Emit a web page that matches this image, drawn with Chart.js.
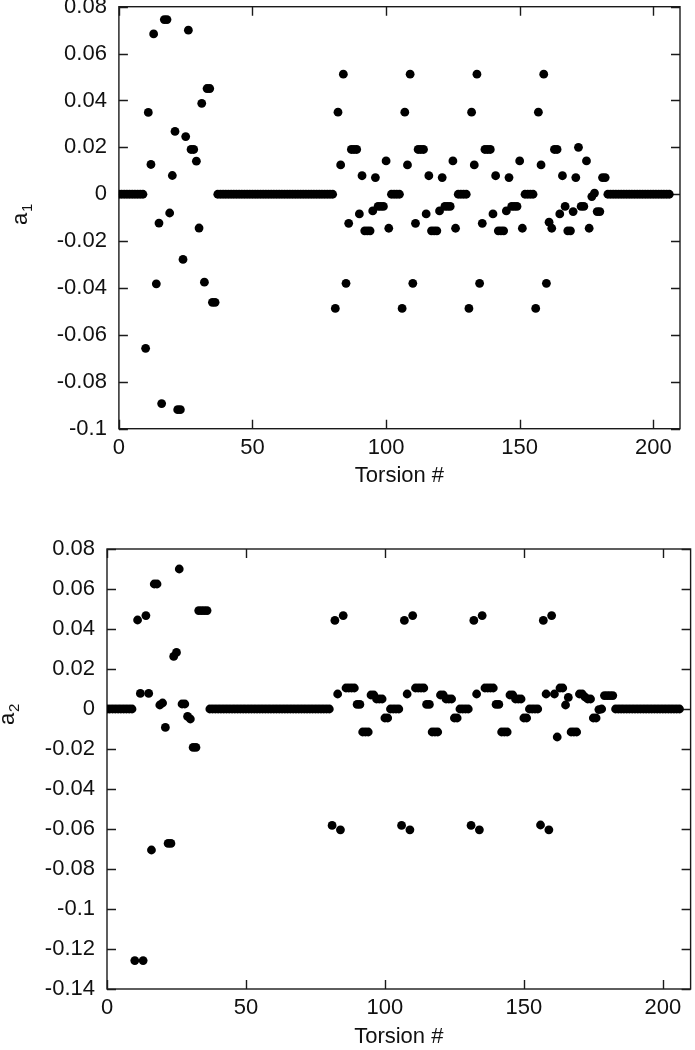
<!DOCTYPE html>
<html>
<head>
<meta charset="utf-8">
<script src="https://cdn.jsdelivr.net/npm/chart.js@4.4.1/dist/chart.umd.min.js"></script>
<style>
  body { margin: 0; background: #fff; }
  .wrap { position: absolute; left: 0; width: 695px; }
  #top-wrap { top: 0; height: 500px; }
  #bottom-wrap { top: 500px; height: 550px; }
</style>
</head>
<body>
<div class="wrap" id="top-wrap"><canvas id="a1-chart" width="695" height="500"></canvas></div>
<div class="wrap" id="bottom-wrap"><canvas id="a2-chart" width="695" height="550"></canvas></div>
<script>
// ==================================================================
//
// Data (index in array = torsion #)
//
// ==================================================================

const torsionTicks = [0, 50, 100, 150, 200];
const a1Ticks = [0.08, 0.06, 0.04, 0.02, 0, -0.02, -0.04, -0.06, -0.08, -0.1];
const a2Ticks = [0.08, 0.06, 0.04, 0.02, 0, -0.02, -0.04, -0.06, -0.08, -0.1, -0.12, -0.14];

const a1Values = [
  // 0 - 9
  0, 0, 0, 0, 0, 0, 0, 0, 0, 0,
  // 10 - 19
  -0.0657, 0.0349, 0.0127, 0.0684, -0.0382, -0.0123, -0.0893, 0.0745, 0.0745, -0.008,
  // 20 - 29
  0.008, 0.0268, -0.0919, -0.0919, -0.0278, 0.0246, 0.07, 0.0191, 0.0191, 0.0141,
  // 30 - 36
  -0.0144, 0.0388, -0.0375, 0.0451, 0.0451, -0.0461, -0.0461,
  // 37 - 80
  0, 0, 0, 0, 0, 0, 0, 0, 0, 0, 0, 0, 0, 0, 0, 0, 0, 0, 0, 0, 0, 0,
  0, 0, 0, 0, 0, 0, 0, 0, 0, 0, 0, 0, 0, 0, 0, 0, 0, 0, 0, 0, 0, 0,
  // 81 - 105
  -0.0487, 0.035, 0.0125, 0.0512, -0.038, -0.0124, 0.0191, 0.0191, 0.0191, -0.0084,
  0.0079, -0.0156, -0.0156, -0.0156, -0.0071, 0.0071, -0.0052, -0.0052, -0.0052, 0.0142,
  -0.0145, 0, 0, 0, 0,
  // 106 - 130
  -0.0487, 0.035, 0.0125, 0.0512, -0.038, -0.0124, 0.0191, 0.0191, 0.0191, -0.0084,
  0.0079, -0.0156, -0.0156, -0.0156, -0.0071, 0.0071, -0.0052, -0.0052, -0.0052, 0.0142,
  -0.0145, 0, 0, 0, 0,
  // 131 - 155
  -0.0487, 0.035, 0.0125, 0.0512, -0.038, -0.0124, 0.0191, 0.0191, 0.0191, -0.0084,
  0.0079, -0.0156, -0.0156, -0.0156, -0.0071, 0.0071, -0.0052, -0.0052, -0.0052, 0.0142,
  -0.0145, 0, 0, 0, 0,
  // 156 - 182
  -0.0487, 0.035, 0.0125, 0.0512, -0.038, -0.0119, -0.0145, 0.0191, 0.0191, -0.0084,
  0.0079, -0.0052, -0.0156, -0.0156, -0.0074, 0.0071, 0.02, -0.0052, -0.0052, 0.0142,
  -0.0145, -0.001, 0.0005, -0.0074, -0.0074, 0.0071, 0.0071,
  // 183 - 206
  0, 0, 0, 0, 0, 0, 0, 0, 0, 0, 0, 0, 0, 0, 0, 0, 0, 0, 0, 0, 0, 0, 0, 0
];

const a2Values = [
  // 0 - 9
  0, 0, 0, 0, 0, 0, 0, 0, 0, 0,
  // 10 - 19
  -0.1258, 0.0445, 0.0078, -0.1258, 0.0467, 0.0078, -0.0705, 0.0625, 0.0625, 0.002,
  // 20 - 29
  0.003, -0.0092, -0.0672, -0.0672, 0.0263, 0.0283, 0.07, 0.0025, 0.0025, -0.0037,
  // 30 - 36
  -0.005, -0.0192, -0.0192, 0.0492, 0.0492, 0.0492, 0.0492,
  // 37 - 80
  0, 0, 0, 0, 0, 0, 0, 0, 0, 0, 0, 0, 0, 0, 0, 0, 0, 0, 0, 0, 0, 0,
  0, 0, 0, 0, 0, 0, 0, 0, 0, 0, 0, 0, 0, 0, 0, 0, 0, 0, 0, 0, 0, 0,
  // 81 - 105
  -0.0582, 0.0443, 0.0075, -0.0604, 0.0467, 0.0105, 0.0105, 0.0105, 0.0105, 0.0023,
  0.0023, -0.0115, -0.0115, -0.0115, 0.007, 0.007, 0.005, 0.005, 0.005, -0.0045,
  -0.0045, 0, 0, 0, 0,
  // 106 - 130
  -0.0582, 0.0443, 0.0075, -0.0604, 0.0467, 0.0105, 0.0105, 0.0105, 0.0105, 0.0023,
  0.0023, -0.0115, -0.0115, -0.0115, 0.007, 0.007, 0.005, 0.005, 0.005, -0.0045,
  -0.0045, 0, 0, 0, 0,
  // 131 - 155
  -0.0582, 0.0443, 0.0075, -0.0604, 0.0467, 0.0105, 0.0105, 0.0105, 0.0105, 0.0023,
  0.0023, -0.0115, -0.0115, -0.0115, 0.007, 0.007, 0.005, 0.005, 0.005, -0.0045,
  -0.0045, 0, 0, 0, 0,
  // 156 - 182
  -0.058, 0.0443, 0.0075, -0.0604, 0.0467, 0.0075, -0.014, 0.0105, 0.0105, 0.002,
  0.0058, -0.0115, -0.0115, -0.0115, 0.0075, 0.0075, 0.006, 0.005, 0.005, -0.0045,
  -0.0045, -0.0003, 0, 0.0067, 0.0067, 0.0067, 0.0067,
  // 183 - 206
  0, 0, 0, 0, 0, 0, 0, 0, 0, 0, 0, 0, 0, 0, 0, 0, 0, 0, 0, 0, 0, 0, 0, 0
];

// ==================================================================
//
// Frame with inward ticks on all four sides + y title with subscript
//
// ==================================================================

const fontFamily = "'Liberation Sans', Arial, sans-serif";

const frameTicks = {
  id: "frameTicks",
  beforeDatasetsDraw(chart, args, opts) {
    const { ctx, chartArea: a, scales } = chart;
    const x = scales.x;
    const y = scales.y;
    ctx.save();
    ctx.strokeStyle = "#1a1a1a";
    ctx.lineWidth = 1.4;
    ctx.strokeRect(a.left, a.top, a.right - a.left, a.bottom - a.top);
    ctx.beginPath();
    x.ticks.forEach((t) => {
      const px = Math.round(x.getPixelForValue(t.value)) + 0.5;
      ctx.moveTo(px, a.bottom);
      ctx.lineTo(px, a.bottom - 9);
      ctx.moveTo(px, a.top);
      ctx.lineTo(px, a.top + 9);
    });
    y.ticks.forEach((t) => {
      const py = Math.round(y.getPixelForValue(t.value)) + 0.5;
      ctx.moveTo(a.left, py);
      ctx.lineTo(a.left + 9, py);
      ctx.moveTo(a.right, py);
      ctx.lineTo(a.right - 9, py);
    });
    ctx.stroke();

    // rotated y title "a" with subscript
    ctx.translate(opts.titleX, opts.titleY);
    ctx.rotate(-Math.PI / 2);
    ctx.fillStyle = "#111";
    ctx.textBaseline = "alphabetic";
    ctx.font = "22px " + fontFamily;
    const w = ctx.measureText(opts.text).width;
    ctx.fillText(opts.text, -w / 2 - 4, 7);
    ctx.font = "15px " + fontFamily;
    ctx.fillText(opts.sub, w / 2 - 3, 12);
    ctx.restore();
  },
};

const fmtTick = (v) => String(Math.round(v * 100) / 100);

// no automatic room for half labels: the plot box is placed by hand
const noScalePadding = (s) => {
  s.paddingTop = 0;
  s.paddingBottom = 0;
  s.paddingLeft = 0;
  s.paddingRight = 0;
};

const makeScatter = (canvasId, values, yTicks, box) => {
  const points = values.map((v, i) => ({ x: i, y: v }));
  return new Chart(document.getElementById(canvasId).getContext("2d"), {
    type: "scatter",
    data: {
      datasets: [
        {
          data: points,
          pointRadius: 4.4,
          pointHoverRadius: 4.4,
          backgroundColor: "#000",
          borderWidth: 0,
        },
      ],
    },
    options: {
      responsive: false,
      animation: false,
      events: [],
      layout: { padding: { left: 0, right: box.right, top: box.top, bottom: 0 } },
      plugins: {
        legend: { display: false },
        tooltip: { enabled: false },
        frameTicks: { text: "a", sub: box.sub, titleX: box.titleX, titleY: box.titleY },
      },
      scales: {
        x: {
          type: "linear",
          min: 0,
          max: 210,
          grid: { display: false, drawTicks: false },
          border: { display: false },
          afterBuildTicks: (s) => {
            s.ticks = torsionTicks.map((v) => ({ value: v }));
          },
          afterFit: (s) => {
            s.height = box.xHeight;
            noScalePadding(s);
          },
          ticks: {
            padding: 6,
            color: "#111",
            font: { family: fontFamily, size: 22 },
            maxRotation: 0,
          },
          title: {
            display: true,
            text: "Torsion #",
            color: "#111",
            padding: { top: 0, bottom: box.titlePad },
            font: { family: fontFamily, size: 22 },
          },
        },
        y: {
          type: "linear",
          min: yTicks[yTicks.length - 1],
          max: yTicks[0],
          grid: { display: false, drawTicks: false },
          border: { display: false },
          afterBuildTicks: (s) => {
            s.ticks = yTicks.map((v) => ({ value: v }));
          },
          afterFit: (s) => {
            s.width = box.yWidth;
            noScalePadding(s);
          },
          ticks: {
            padding: 12,
            color: "#111",
            callback: fmtTick,
            font: { family: fontFamily, size: 22 },
          },
        },
      },
    },
    plugins: [frameTicks],
  });
};

makeScatter("a1-chart", a1Values, a1Ticks, {
  right: 15, top: 6.7, xHeight: 71.3, yWidth: 118.9, titlePad: 11,
  sub: "1", titleX: 20, titleY: 215,
});

makeScatter("a2-chart", a2Values, a2Ticks, {
  right: 1, top: 49, xHeight: 61, yWidth: 107, titlePad: 0,
  sub: "2", titleX: 7, titleY: 215,
});
</script>
</body>
</html>
